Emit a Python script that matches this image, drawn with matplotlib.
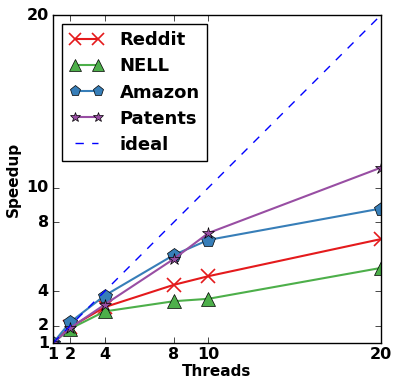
import matplotlib
matplotlib.use('Agg')
import matplotlib.pyplot as plt

threads = [1, 2, 4, 8, 10, 20]
reddit = [1, 1.92, 3.08, 4.37, 4.87, 7.02]
nell = [1, 1.83, 2.83, 3.42, 3.56, 5.35]
amazon = [1, 2.21, 3.75, 6.10, 6.97, 8.79]
patents = [1, 1.87, 3.23, 5.87, 7.37, 11.16]
ticks = [1, 2, 4, 8, 10, 20]

plt.style.use('classic')
plt.rcParams['font.weight'] = 'bold'
plt.rcParams['axes.labelweight'] = 'bold'

fig = plt.figure(figsize=(3.93, 3.81), dpi=100)
ax = fig.add_axes([53 / 393, 1 - 343 / 381, 328 / 393, 328 / 381])

ax.plot(threads, reddit, color='#e41a1c', marker='x', markersize=10, mew=1.2,
        mec='#e41a1c', lw=1.5, label='Reddit')
ax.plot(threads, nell, color='#4daf4a', marker='^', markersize=10,
        mec='black', lw=1.5, label='NELL')
ax.plot(threads, amazon, color='#377eb8', marker='p', markersize=10,
        mec='black', lw=1.5, label='Amazon')
ax.plot(threads, patents, color='#984ea3', marker='*', markersize=9,
        mec='black', lw=1.5, label='Patents')
ax.plot([1, 20], [1, 20], 'b--', lw=1, label='ideal')

ax.set_xlim(1, 20)
ax.set_ylim(1, 20)
ax.set_xticks(ticks)
ax.set_yticks(ticks)
ax.tick_params(labelsize=11.5, pad=3)
ax.set_xlabel('Threads', fontsize=11, labelpad=1)
ax.set_ylabel('Speedup', fontsize=11, labelpad=4)

leg = ax.legend(loc='upper left', fontsize=13, numpoints=2, handlelength=1.9,
                markerscale=0.8, borderaxespad=0.5, labelspacing=0.45,
                handletextpad=0.9, frameon=True)
leg.get_frame().set_linewidth(1)

fig.savefig('out.png', dpi=100)
plt.close()
